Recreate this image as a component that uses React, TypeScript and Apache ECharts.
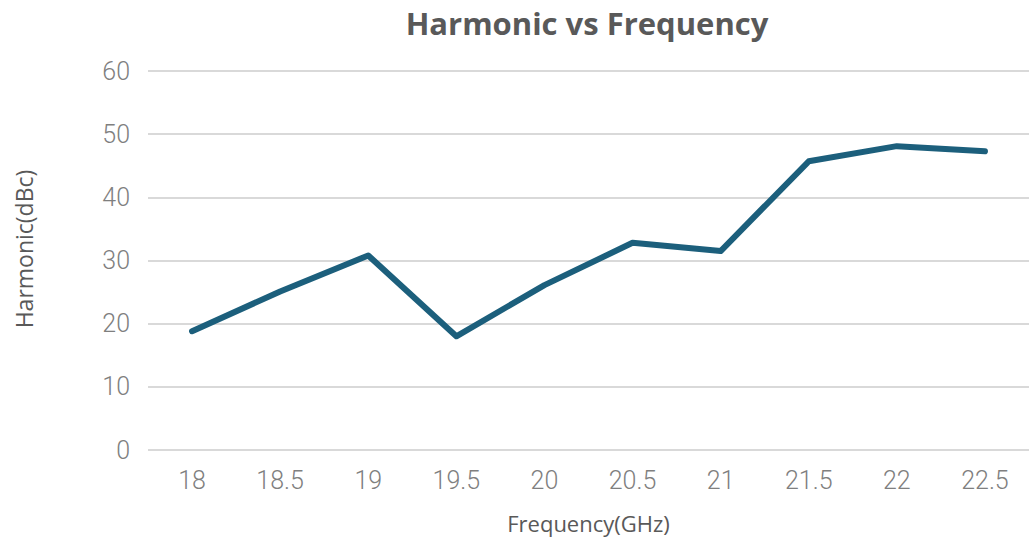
import React, { useEffect, useRef } from "react";
import * as echarts from "echarts";

const categories = ["18", "18.5", "19", "19.5", "20", "20.5", "21", "21.5", "22", "22.5"];
const harmonic = [18.8, 25.1, 30.8, 18.0, 26.1, 32.8, 31.5, 45.7, 48.1, 47.3];

const tickFont = "Roboto, sans-serif";
const nameFont = "'Open Sans', sans-serif";

export default function App() {
  const ref = useRef<HTMLDivElement>(null);
  useEffect(() => {
    if (!ref.current) return;
    const chart = echarts.init(ref.current, undefined, { renderer: "svg" });
    chart.setOption({
      animation: false,
      backgroundColor: "#ffffff",
      title: {
        text: "Harmonic vs Frequency",
        left: 582,
        top: 2,
        textAlign: "center",
        textStyle: {
          fontFamily: nameFont,
          fontWeight: "bold",
          fontSize: 31,
          color: "#595959",
        },
      },
      graphic: [
        {
          type: "text",
          x: 24,
          y: 249,
          rotation: Math.PI / 2,
          style: {
            text: "Harmonic(dBc)",
            fontFamily: nameFont,
            fontSize: 23,
            fill: "#595959",
            align: "center",
            verticalAlign: "middle",
          },
        },
      ],
      grid: { left: 148, right: -3, top: 71, bottom: 94, containLabel: false },
      xAxis: {
        type: "category",
        data: categories,
        boundaryGap: true,
        name: "Frequency(GHz)",
        nameLocation: "middle",
        nameGap: 62,
        nameTextStyle: { fontFamily: nameFont, fontSize: 22, color: "#595959" },
        axisLine: { show: false },
        axisTick: { show: false },
        axisLabel: { margin: 18, fontFamily: tickFont, fontWeight: 300, fontSize: 25, color: "#7f7f7f" },
      },
      yAxis: {
        type: "value",
        min: 0,
        max: 60,
        interval: 10,
        axisLine: { show: false },
        axisTick: { show: false },
        axisLabel: { margin: 18, fontFamily: tickFont, fontWeight: 300, fontSize: 25, color: "#7f7f7f" },
        splitLine: { lineStyle: { color: "#d9d9d9", width: 2 } },
      },
      series: [
        {
          type: "line",
          data: harmonic,
          symbol: "none",
          lineStyle: { color: "#1c5f7c", width: 6, cap: "round", join: "round" },
        },
      ],
    });
    return () => chart.dispose();
  }, []);
  return (
    <div
      ref={ref}
      style={{ position: "fixed", left: 0, top: 0, width: 1029, height: 544 }}
    />
  );
}
